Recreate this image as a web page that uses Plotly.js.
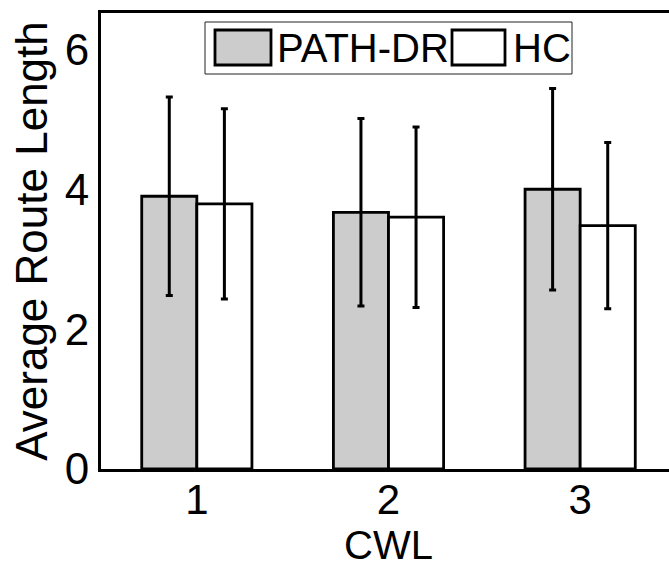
<!DOCTYPE html>
<html>
<head>
<meta charset="utf-8">
<script src="https://cdn.plot.ly/plotly-3.0.1.min.js"></script>
<style>
html,body{margin:0;padding:0;overflow:hidden;background:#fff;}
#chart{width:700px;height:570px;}
</style>
</head>
<body>
<div id="chart"></div>
<script>
// ---- data ----
const categories = [1, 2, 3];
const tickLabels = ['1', '2', '3'];
const seriesNames = ['PATH-DR', 'HC'];
const pathDR = [3.90, 3.67, 4.00];
const pathDRErr = [1.42, 1.34, 1.44];
const hc = [3.79, 3.60, 3.48];
const hcErr = [1.36, 1.29, 1.19];
const yTickVals = [0, 2, 4, 6];

const FONT = 'Liberation Sans, Arial, Helvetica, sans-serif';
const barColors = ['#cccccc', '#ffffff'];

function barTrace(name, y, err, color) {
  return {
    type: 'bar', name: name, x: categories, y: y,
    marker: {color: color, line: {color: '#000', width: 2.8}},
    error_y: {type: 'data', array: err, visible: true, color: '#000', thickness: 3, width: 3.5},
    showlegend: false, hoverinfo: 'skip'
  };
}

const data = [
  barTrace(seriesNames[0], pathDR, pathDRErr, barColors[0]),
  barTrace(seriesNames[1], hc, hcErr, barColors[1])
];

// plot area in pixels: x 101..676, y 13..469
const L = 101, R = 676, T = 13, B = 469;
const W = R - L, H = B - T;
const px = v => (v - L) / W;
const py = v => (B - v) / H;

const shapes = [
  {type: 'rect', xref: 'paper', yref: 'paper', x0: px(205), x1: px(572), y0: py(74), y1: py(22),
   line: {color: '#222', width: 1}, fillcolor: '#fff', layer: 'above'},
  {type: 'rect', xref: 'paper', yref: 'paper', x0: px(215), x1: px(271), y0: py(65), y1: py(30),
   line: {color: '#000', width: 2.8}, fillcolor: barColors[0], layer: 'above'},
  {type: 'rect', xref: 'paper', yref: 'paper', x0: px(452), x1: px(505), y0: py(65), y1: py(30),
   line: {color: '#000', width: 2.8}, fillcolor: barColors[1], layer: 'above'}
];

const annotations = [
  {xref: 'paper', yref: 'paper', x: px(275), y: py(48), xanchor: 'left', yanchor: 'middle',
   text: seriesNames[0], showarrow: false, font: {family: FONT, size: 40, color: '#000'}},
  {xref: 'paper', yref: 'paper', x: px(511), y: py(48), xanchor: 'left', yanchor: 'middle',
   text: seriesNames[1], showarrow: false, font: {family: FONT, size: 40, color: '#000'}}
];

const layout = {
  width: 700, height: 570,
  margin: {l: L, r: 700 - R, t: T, b: 570 - B},
  paper_bgcolor: '#fff', plot_bgcolor: '#fff',
  barmode: 'group', bargap: 0.425, bargroupgap: 0,
  font: {family: FONT, size: 44, color: '#000'},
  xaxis: {
    range: [0.5, 3.5], tickvals: categories, ticktext: tickLabels,
    showline: true, linecolor: '#000', linewidth: 3, mirror: true,
    showgrid: false, zeroline: false, ticks: '', ticklabelstandoff: -8,
    tickfont: {family: FONT, size: 42, color: '#000'},
    title: {text: 'CWL', font: {family: FONT, size: 40, color: '#000'}, standoff: 2}
  },
  yaxis: {
    range: [0, 6.52], tickvals: yTickVals,
    showline: true, linecolor: '#000', linewidth: 3, mirror: true,
    showgrid: false, zeroline: false, ticks: '',
    tickfont: {family: FONT, size: 44, color: '#000'},
    title: {text: 'Average Route Length', font: {family: FONT, size: 44, color: '#000'}, standoff: 4}
  },
  shapes: shapes,
  annotations: annotations
};

Plotly.newPlot('chart', data, layout, {displayModeBar: false, staticPlot: true});
</script>
</body>
</html>
